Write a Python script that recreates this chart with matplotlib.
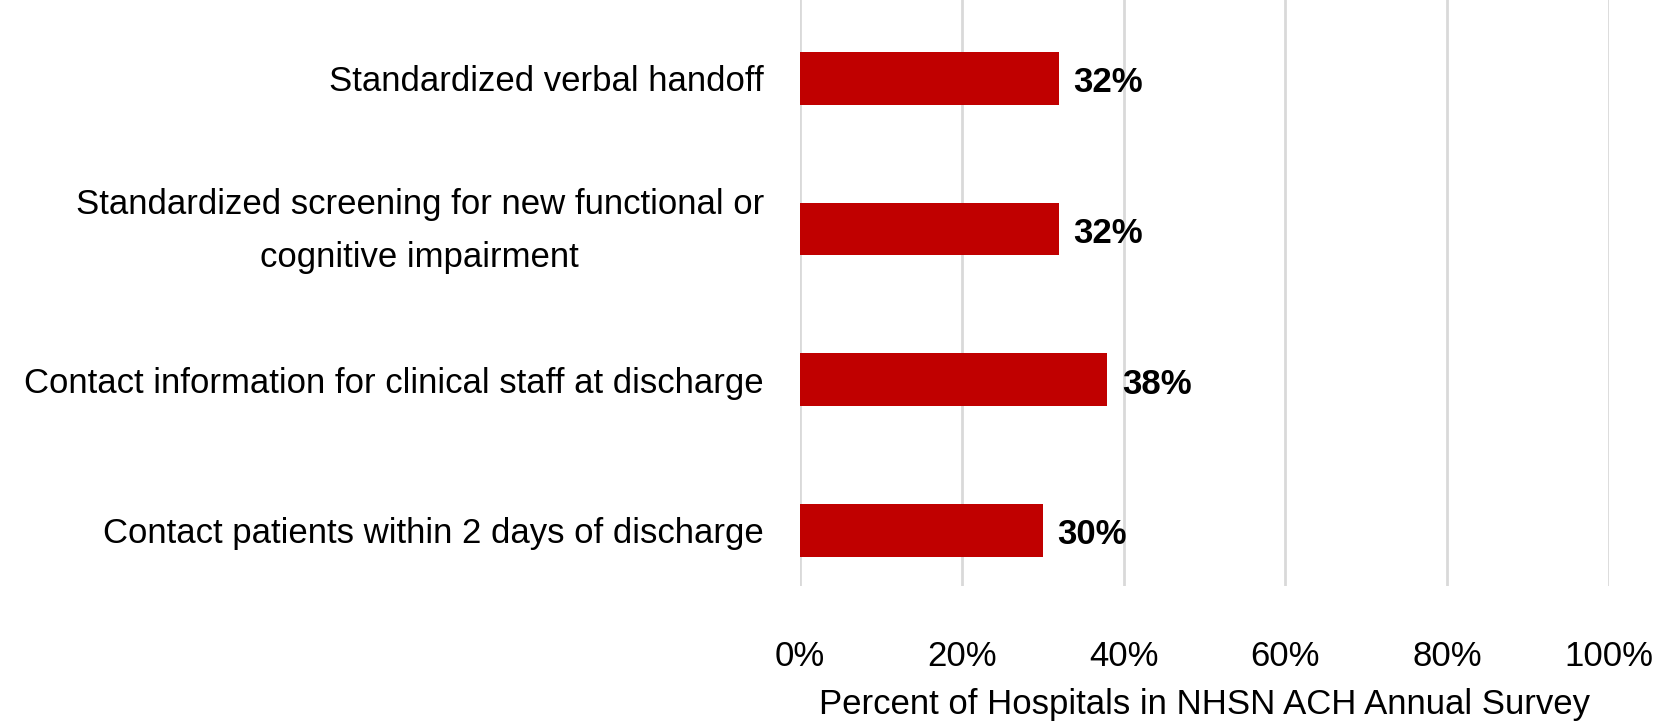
import matplotlib
matplotlib.use("Agg")
import matplotlib.pyplot as plt
import matplotlib.transforms as mtransforms
from matplotlib.ticker import FuncFormatter

categories = [
    "Standardized verbal handoff",
    "Standardized screening for new functional or\ncognitive impairment",
    "Contact information for clinical staff at discharge",
    "Contact patients within 2 days of discharge",
]
values = [32, 32, 38, 30]
xticks = [0, 20, 40, 60, 80, 100]
xlabel = "Percent of Hospitals in NHSN ACH Annual Survey"

plt.rcParams['font.family'] = ['Liberation Sans', 'DejaVu Sans']

fig = plt.figure(figsize=(16.71, 7.21), dpi=100)
ax = fig.add_axes([800/1671, 1 - 586/721, 809/1671, 586/721])

y = list(range(len(categories)))
ax.barh(y, values, height=0.35, color="#C00000", zorder=3)
for yi, v in zip(y, values):
    ax.text(v + 1.8, yi + 0.03, f"{v}%", va="center", ha="left", fontsize=25,
            fontweight="bold", color="black")

ax.set_xlim(0, 100)
ax.set_ylim(3.37, -0.52)
ax.set_xticks(xticks)
ax.xaxis.set_major_formatter(FuncFormatter(lambda v, p: f"{v:.0f}%"))
ax.set_yticks(y)
ax.set_yticklabels(categories, fontsize=25, ha="right", multialignment="center",
                   linespacing=1.75)
ax.tick_params(axis="y", length=0, pad=26)
ax.tick_params(axis="x", length=0, labelsize=25, pad=39)
for lab in ax.get_yticklabels():
    if "\n" in lab.get_text():
        lab.set_transform(lab.get_transform() +
                          mtransforms.ScaledTranslation(0, 8/72, fig.dpi_scale_trans))
ax.grid(axis="x", color="#D9D9D9", linewidth=2, zorder=0)
for s in ax.spines.values():
    s.set_visible(False)
ax.set_xlabel(xlabel, fontsize=25, labelpad=11)

fig.savefig("out.png", dpi=100)
